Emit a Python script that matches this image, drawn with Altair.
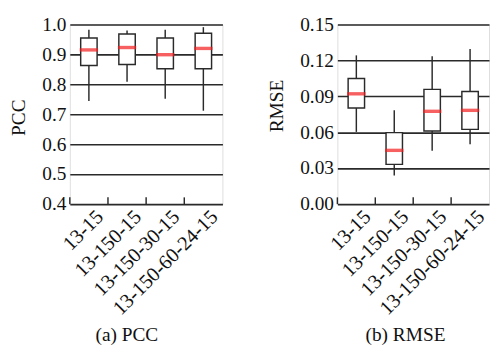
import altair as alt
import pandas as pd

categories = ["13-15", "13-150-15", "13-150-30-15", "13-150-60-24-15"]

pcc_low = [0.744, 0.809, 0.752, 0.712]
pcc_q1 = [0.863, 0.866, 0.852, 0.852]
pcc_med = [0.915, 0.923, 0.899, 0.920]
pcc_q3 = [0.955, 0.968, 0.955, 0.971]
pcc_high = [0.982, 0.980, 0.982, 0.991]

rmse_low = [0.0603, 0.0239, 0.0446, 0.0500]
rmse_q1 = [0.0802, 0.0332, 0.0611, 0.0624]
rmse_med = [0.0921, 0.0449, 0.0775, 0.0783]
rmse_q3 = [0.1049, 0.0597, 0.0958, 0.0940]
rmse_high = [0.1242, 0.0783, 0.1235, 0.1296]

pcc_ticks = [0.4, 0.5, 0.6, 0.7, 0.8, 0.9, 1.0]
rmse_ticks = [0.00, 0.03, 0.06, 0.09, 0.12, 0.15]

FONT = "Liberation Serif"
H = 186


def panel(low, q1, med, q3, high, ticks, fmt, ytitle, caption, W, cap_dx, title_y):
    df = pd.DataFrame({"cat": categories, "low": low, "q1": q1, "med": med,
                       "q3": q3, "high": high})
    xscale = alt.Scale(paddingInner=0, paddingOuter=0)
    xaxis = alt.Axis(labelAngle=-45, labelAlign="right", labelBaseline="top",
                     labelFont=FONT, labelFontSize=21, labelColor="#111",
                     labelPadding=2, labelOffset=4, domain=False, ticks=False, grid=False,
                     labelOverlap=False)
    x = alt.X("cat:N", sort=categories, title=None, scale=xscale, axis=xaxis)
    yscale = alt.Scale(domain=[ticks[0], ticks[-1]], nice=False, zero=False)
    yaxis = alt.Axis(values=ticks, format=fmt, labelFont=FONT, labelFontSize=20,
                     labelColor="#111", labelPadding=4, ticks=False, domain=False,
                     labelOverlap=False, labelFlush=False,
                     grid=True, gridColor="#2a2a2a", gridWidth=1.6, gridOpacity=1,
                     title=ytitle, titleFont=FONT, titleFontSize=20,
                     titleFontWeight="normal", titleColor="#111", titlePadding=14,
                     titleY=title_y)

    def Y(field):
        return alt.Y(field, scale=yscale, axis=yaxis)

    base = alt.Chart(df)
    whisk = base.mark_rule(color="#2a2a2a", strokeWidth=1.5).encode(
        x=x, y=Y("low:Q"), y2="high:Q")
    box = base.mark_bar(size=17, fill="white", stroke="#2a2a2a", strokeWidth=1.5).encode(
        x=x, y=Y("q1:Q"), y2="q3:Q")
    medm = base.mark_tick(size=19, thickness=3.5, color="#f41c1c").encode(
        x=x, y=Y("med:Q"))
    tk = base.mark_rule(color="#2a2a2a", strokeWidth=1.5).encode(
        x=alt.X("cat:N", sort=categories, bandPosition=0, scale=xscale, axis=xaxis),
        y=alt.value(H), y2=alt.value(H - 7))
    return alt.layer(whisk, box, medm, tk).properties(
        width=W, height=H,
        title=alt.TitleParams(caption, orient="bottom", font=FONT, fontSize=20,
                              fontWeight="normal", color="#111", offset=7, dx=cap_dx))


left = panel(pcc_low, pcc_q1, pcc_med, pcc_q3, pcc_high, pcc_ticks, ".1f", "PCC",
             "(a) PCC", 158, -20, 96)
right = panel(rmse_low, rmse_q1, rmse_med, rmse_q3, rmse_high, rmse_ticks, ".2f", "RMSE",
              "(b) RMSE", 157, -8, 84)

chart = alt.hconcat(left, right, spacing=44).properties(
    padding={"left": 0, "top": 0, "right": 0, "bottom": 0}
).configure_view(stroke="#2a2a2a", strokeWidth=1.6).configure(background="white")

chart.save("out.html", embed_options={"renderer": "svg", "actions": False})
